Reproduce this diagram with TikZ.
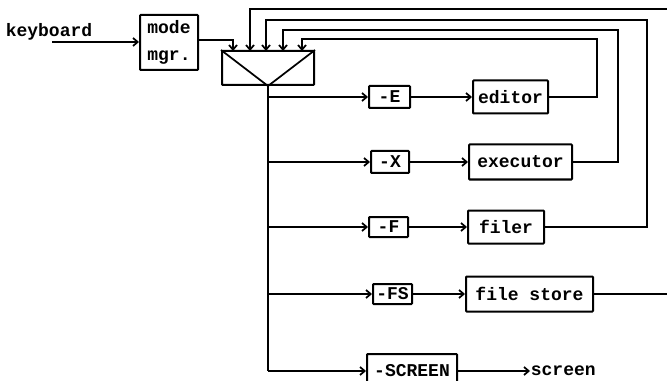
\documentclass[tikz,border=0pt]{standalone}
\usepackage{fontspec}
\newfontfamily\dm{Liberation Mono}
\usetikzlibrary{arrows.meta}
\begin{document}
\begin{tikzpicture}[x=0.75pt,y=-0.75pt,
  line width=1.3pt,
  >={Straight Barb[length=3.5pt,width=6pt]},
  txt/.style={font=\dm\bfseries\fontsize{13.5}{20}\selectfont},
  box/.style={draw,txt,line width=1.5pt,inner sep=0pt,rounded corners=0.6pt},
  sz/.style 2 args={minimum width={#1*0.75pt},minimum height={#2*0.75pt}},
  lbl/.style={txt,inner sep=0pt},
  bus/.style={line width=2.2pt}]
\clip (0,0) rectangle (667,381);
\fill[white] (0,0) rectangle (667,381);
% input side
\node[lbl] (kbd) at (49,32) {keyboard};
\coordinate (kb) at (52,42);
\node[box,sz={58}{55},align=center] (mode) at (169,42.5) {mode\\mgr.};
\draw[->] (kb) -- (kb -| mode.west);
% dispatcher
\node[box,sz={92}{34}] (sw) at (268,68) {};
\draw (sw.north west) -- (sw.south) -- (sw.north east);
\coordinate (a1) at (233,51);
\coordinate (a2) at (250,51);
\coordinate (a3) at (266,51);
\coordinate (a4) at (283,51);
\coordinate (a5) at (302,51);
\coordinate (m1) at (233,40);
\draw[->] (mode.east |- m1) -- (m1) -- (a1);
% rows
\coordinate (bE) at (268,97);
\coordinate (bX) at (268,162);
\coordinate (bF) at (268,227);
\coordinate (bFS) at (268,294);
\coordinate (bS) at (268,371);
\draw[bus] (sw.south) -- (bS);
\node[box,sz={41}{22}] (E) at (389.5,97) {-E};
\node[box,sz={75}{33}] (ed) at (510.5,97) {editor};
\node[box,sz={38}{22}] (X) at (390,162) {-X};
\node[box,sz={103}{35}] (ex) at (520.5,162) {executor};
\node[box,sz={39}{20}] (F) at (388.5,227) {-F};
\node[box,sz={76}{33}] (fi) at (506,227) {filer};
\node[box,sz={39}{20}] (FS) at (392.5,294) {-FS};
\node[box,sz={127}{35}] (fs) at (529.5,294) {file store};
\node[box,sz={90}{34}] (scr) at (412,371) {-SCREEN};
\node[lbl,anchor=west] (scrt) at (530,371) {screen};
\foreach \b/\n in {bE/E,bX/X,bF/F,bFS/FS,bS/scr}
  \draw[->] (\b) -- (\n.west);
\draw[->] (E) -- (ed);
\draw[->] (X) -- (ex);
\draw[->] (F) -- (fi);
\draw[->] (FS) -- (fs);
\draw[->] (scr) -- (scrt);
% feedback
\draw[->] (ed.east) -- (597,97) -- (597,39) -- (302,39) -- (a5);
\draw[->] (ex.east) -- (618,162) -- (618,30) -- (283,30) -- (a4);
\draw[->] (fi.east) -- (647,227) -- (647,20) -- (266,20) -- (a3);
\coordinate (fsout) at (667,294);
\coordinate (topin) at (667,9);
\draw (fs.east) -- (fsout);
\draw[->] (topin) -- (250,9) -- (a2);
\end{tikzpicture}
\end{document}
